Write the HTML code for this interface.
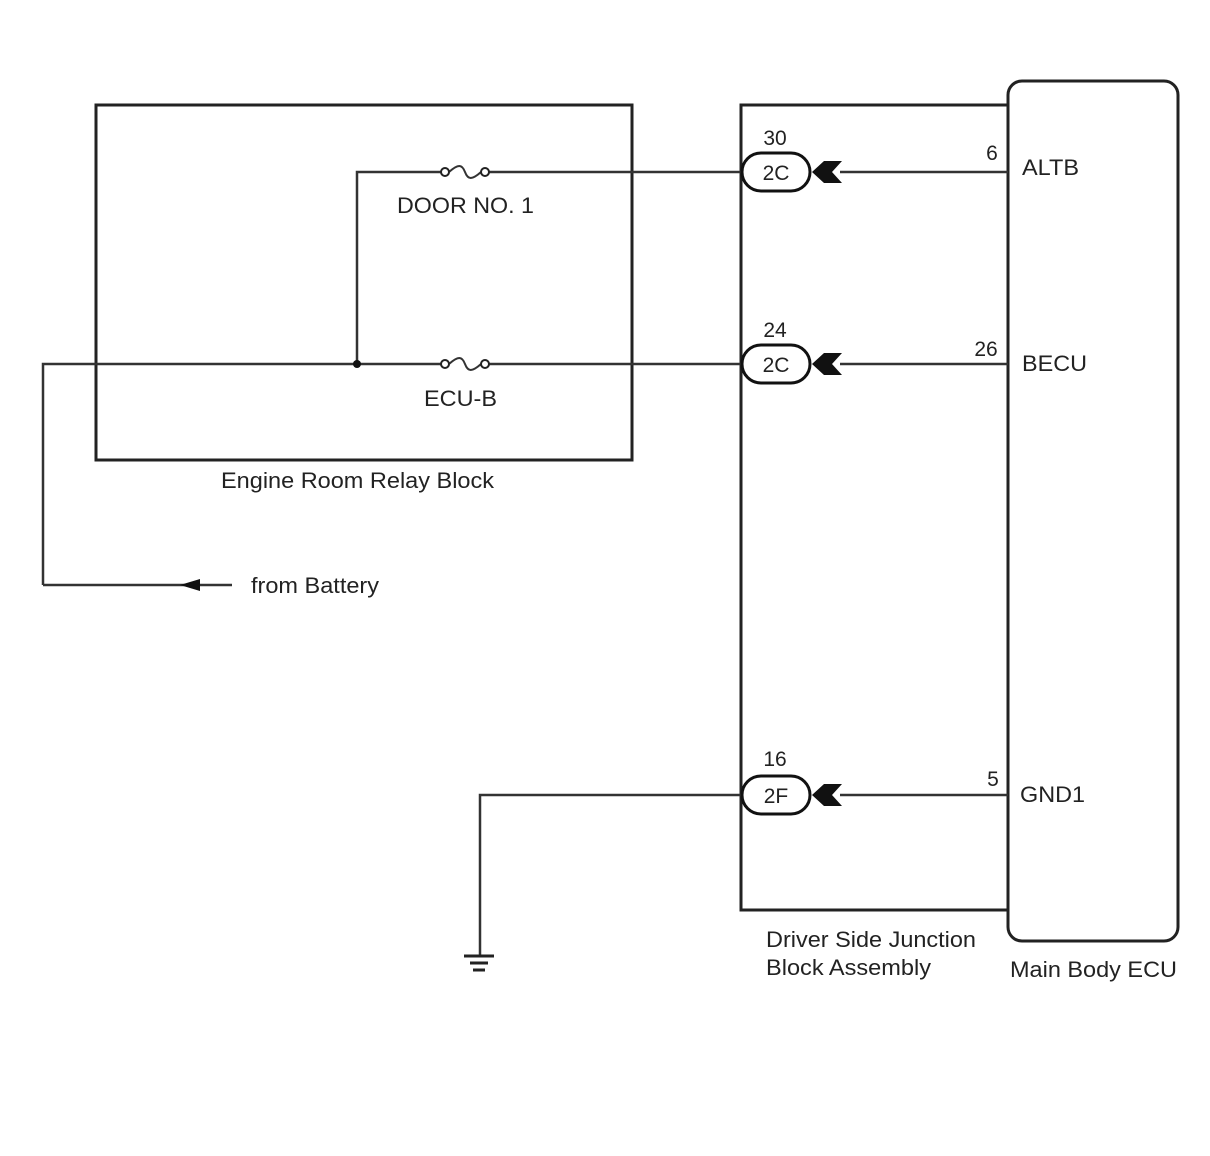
<!DOCTYPE html>
<html><head><meta charset="utf-8"><style>
html,body{margin:0;padding:0;background:#fff;}
svg{display:block;}
text{font-family:"Liberation Sans",Arial,sans-serif;fill:#222;}
</style></head><body>
<svg width="1210" height="1156" viewBox="0 0 1210 1156" xmlns="http://www.w3.org/2000/svg">
<rect width="1210" height="1156" fill="#fff"/>
<g fill="none" stroke="#222" stroke-width="3">
<rect x="96" y="105" width="536" height="355"/>
<path d="M1008 105 H741 V910 H1008"/>
<rect x="1008" y="81" width="170" height="860" rx="14"/>
</g>
<g fill="none" stroke="#333" stroke-width="2.5">
<path d="M357 364 V172 H445 M485 172 H742"/>
<path d="M43 585 V364 H445 M485 364 H742"/>
<path d="M43 585 H232"/>
<path d="M742 795 H480 V956"/>
<path d="M840 172 H1008 M840 364 H1008 M840 795 H1008"/>
<path d="M449 172 C458 164 462 164 465 172 C468 180 472 180 481 172" stroke-width="2"/>
<path d="M449 364 C458 356 462 356 465 364 C468 372 472 372 481 364" stroke-width="2"/>
</g>
<g fill="#fff" stroke="#222" stroke-width="2">
<circle cx="445" cy="172" r="4"/><circle cx="485" cy="172" r="4"/>
<circle cx="445" cy="364" r="4"/><circle cx="485" cy="364" r="4"/>
</g>
<circle cx="357" cy="364" r="4" fill="#111"/>
<polygon points="180,585 200,579 200,591" fill="#111"/>
<g stroke="#222" stroke-width="3">
<line x1="464" y1="956" x2="494" y2="956"/>
<line x1="470" y1="963" x2="488" y2="963"/>
<line x1="473" y1="970" x2="485" y2="970"/>
</g>
<g fill="#fff" stroke="#111" stroke-width="3">
<rect x="742" y="153" width="68" height="38" rx="19"/>
<rect x="742" y="345" width="68" height="38" rx="19"/>
<rect x="742" y="776" width="68" height="38" rx="19"/>
</g>
<g fill="#111">
<polygon points="812,172 824,161 842,161 832,172 842,183 824,183"/>
<polygon points="812,364 824,353 842,353 832,364 842,375 824,375"/>
<polygon points="812,795 824,784 842,784 832,795 842,806 824,806"/>
</g>
<g font-size="21" text-anchor="middle">
<text x="776" y="180">2C</text><text x="776" y="372">2C</text><text x="776" y="803">2F</text>
<text x="775" y="145">30</text><text x="775" y="337">24</text><text x="775" y="766">16</text>
<text x="992" y="160">6</text><text x="986" y="356">26</text><text x="993" y="786">5</text>
</g>
<g font-size="22">
<text x="1022" y="175" textLength="57" lengthAdjust="spacingAndGlyphs">ALTB</text>
<text x="1022" y="371" textLength="65" lengthAdjust="spacingAndGlyphs">BECU</text>
<text x="1020" y="802" textLength="65" lengthAdjust="spacingAndGlyphs">GND1</text>
<text x="397" y="213" textLength="137" lengthAdjust="spacingAndGlyphs">DOOR NO. 1</text>
<text x="424" y="406" textLength="73" lengthAdjust="spacingAndGlyphs">ECU-B</text>
<text x="221" y="488" textLength="273" lengthAdjust="spacingAndGlyphs">Engine Room Relay Block</text>
<text x="251" y="593" textLength="128" lengthAdjust="spacingAndGlyphs">from Battery</text>
<text x="766" y="947" textLength="210" lengthAdjust="spacingAndGlyphs">Driver Side Junction</text>
<text x="766" y="975" textLength="165" lengthAdjust="spacingAndGlyphs">Block Assembly</text>
<text x="1010" y="977" textLength="167" lengthAdjust="spacingAndGlyphs">Main Body ECU</text>
</g>
</svg>
</body></html>
